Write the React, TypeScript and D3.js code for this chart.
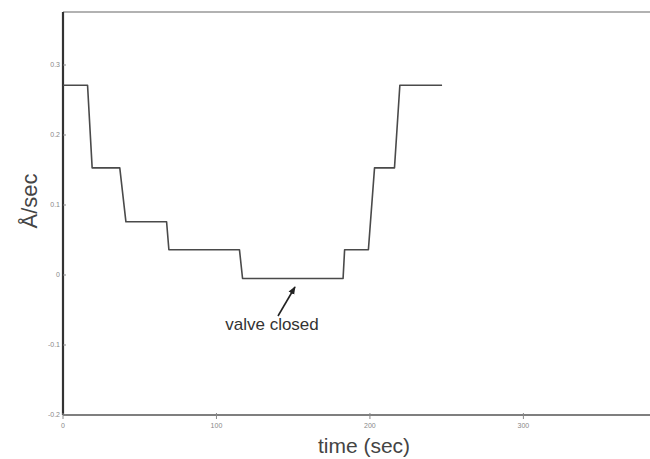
import React from 'react';
import * as d3 from 'd3';

// step trace: time (sec) vs rate (Å/sec)
const times = [0, 16, 19, 37, 41, 67.5, 69, 115, 117, 182.5, 183.5, 199, 203, 216, 219.5, 247];
const rates = [0.271, 0.271, 0.153, 0.153, 0.076, 0.076, 0.036, 0.036, -0.005, -0.005, 0.036, 0.036, 0.153, 0.153, 0.271, 0.271];
const xTicks = [0, 100, 200, 300];
const yTicks = [-0.2, -0.1, 0, 0.1, 0.2, 0.3];

const W = 650;
const H = 459;
const margin = { left: 63, top: 12, right: 0, bottom: 44 };

export default function App() {
  const x = d3.scaleLinear().domain([0, 382.5]).range([margin.left, W - margin.right]);
  const y = d3.scaleLinear().domain([-0.2, 0.3757]).range([H - margin.bottom, margin.top]);

  const line = d3
    .line<number>()
    .x((_, i) => x(times[i]))
    .y((d) => y(d));

  const x0 = x(0);
  const yBottom = y(-0.2);
  const yTop = y.range()[1];

  return (
    <svg
      width={W}
      height={H}
      style={{ position: 'absolute', left: 0, top: 0, background: '#fff' }}
      fontFamily="Liberation Sans, Arial, sans-serif"
    >
      {/* frame */}
      <line x1={x0} x2={W} y1={yTop} y2={yTop} stroke="#666" strokeWidth={1.2} />
      <line x1={x0} x2={W} y1={yBottom} y2={yBottom} stroke="#555" strokeWidth={1.4} />
      <line x1={x0} x2={x0} y1={yTop} y2={yBottom} stroke="#333" strokeWidth={2.2} />

      {/* x ticks */}
      {xTicks.map((t) => (
        <g key={t} transform={`translate(${x(t)},${yBottom})`}>
          <line y1={-2} y2={4} stroke="#888" strokeWidth={1} />
          <text y={13} textAnchor="middle" fontSize={7} fill="#888">
            {t}
          </text>
        </g>
      ))}

      {/* y ticks */}
      {yTicks.map((t) => (
        <g key={t} transform={`translate(${x0},${y(t)})`}>
          <line x1={0} x2={3} stroke="#888" strokeWidth={1} />
          <text x={-3} dy="0.35em" textAnchor="end" fontSize={7} fill="#888">
            {t}
          </text>
        </g>
      ))}

      {/* data */}
      <path d={line(rates) ?? ''} fill="none" stroke="#4a4a4a" strokeWidth={1.6} strokeLinejoin="round" />

      {/* annotation */}
      <defs>
        <marker id="head" viewBox="0 0 10 10" refX={9} refY={5} markerWidth={5} markerHeight={5} orient="auto">
          <path d="M0,1 L10,5 L0,9 z" fill="#222" />
        </marker>
      </defs>
      <line x1={278} y1={316} x2={295} y2={287} stroke="#222" strokeWidth={1.6} markerEnd="url(#head)" />
      <text x={272} y={330} textAnchor="middle" fontSize={17} fill="#333">
        valve closed
      </text>

      {/* axis titles */}
      <text x={364} y={453} textAnchor="middle" fontSize={21} fill="#444">
        time (sec)
      </text>
      <text
        transform="translate(37,201) rotate(-90)"
        textAnchor="middle"
        fontSize={22}
        fill="#444"
      >
        Å/sec
      </text>
    </svg>
  );
}
